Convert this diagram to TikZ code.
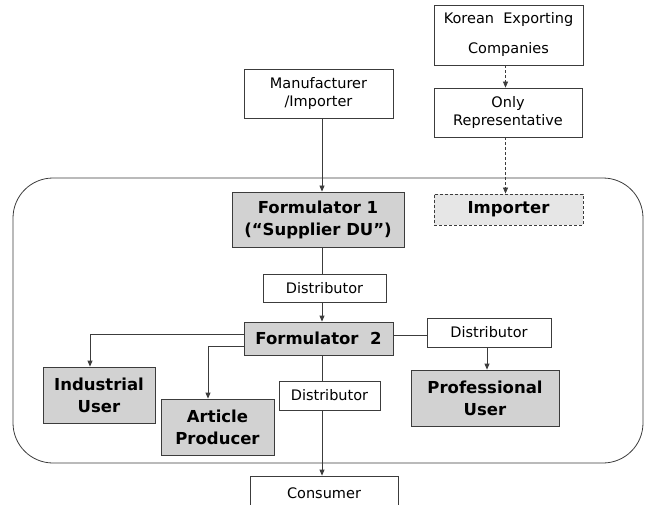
\documentclass[tikz,border=0pt]{standalone}
\usepackage{fontspec}
\setmainfont{DejaVu Sans}
\usetikzlibrary{arrows.meta}
\definecolor{linec}{RGB}{60,60,60}
\definecolor{boxgray}{RGB}{210,210,210}
\definecolor{lightgray}{RGB}{230,230,230}
\begin{document}
\begin{tikzpicture}[x=1pt,y=-1pt,
  box/.style={draw=linec, line width=0.8pt, fill=white, inner sep=0pt, align=center,
              font=\fontsize{14.5}{18}\selectfont},
  actor/.style={box, fill=boxgray, font=\bfseries\fontsize{16.5}{22}\selectfont},
  link/.style={draw=linec, line width=0.8pt},
  arr/.style={link, -{Triangle[length=6pt,width=5pt]}},
  dasharr/.style={arr, dashed, dash pattern=on 3pt off 2pt},
]
\useasboundingbox (0,0) rectangle (650,505);
\begin{scope}
\clip (0,0) rectangle (650,505);

% domestic supply chain frame
\draw[link, rounded corners=40pt] (13,178) rectangle (643,463);

% outside parties
\node[box, minimum width=149pt, minimum height=60pt, font=\fontsize{14.5}{30}\selectfont]
  (korean) at (508.5,35) {Korean\ \ Exporting\\Companies};
\node[box, minimum width=148pt, minimum height=49pt] (onlyrep) at (508,112.5) {Only\\Representative};
\node[box, minimum width=149pt, minimum height=49pt] (manuf) at (318.5,93.5) {Manufacturer\\/Importer};

% importer via only representative
\node[actor, fill=lightgray, dashed, dash pattern=on 3pt off 2pt, minimum width=149pt, minimum height=31pt]
  (importer) at (508.5,209.5) {Importer};

% formulators and distributors
\node[actor, minimum width=172pt, minimum height=55pt] (form1) at (318,219.5) {Formulator 1\\(“Supplier DU”)};
\node[box, minimum width=123pt, minimum height=28pt] (dist1) at (324.5,288) {Distributor};
\node[actor, minimum width=149pt, minimum height=33pt] (form2) at (318.5,338.5) {Formulator\ \ 2};
\node[box, minimum width=124pt, minimum height=29pt] (distr) at (489,332.5) {Distributor};
\node[box, minimum width=101pt, minimum height=29pt] (dist3) at (329.5,395.5) {Distributor};

% end users
\node[actor, minimum width=112pt, minimum height=56pt] (indus) at (99,395) {Industrial\\User};
\node[actor, minimum width=113pt, minimum height=56pt] (article) at (217.5,427) {Article\\Producer};
\node[actor, minimum width=148pt, minimum height=56pt] (prof) at (485,398) {Professional\\User};
\node[box, minimum width=148pt, minimum height=34pt] (consumer) at (324,493) {Consumer};

% guide coordinates for the vertical runs
\coordinate (spine) at (322,0);
\coordinate (orx) at (505.5,0);
\coordinate (profx) at (487,0);
\coordinate (f2r) at ([yshift=3.5pt]form2.east);
\coordinate (f2a) at ([yshift=4.5pt]form2.west);
\coordinate (f2b) at ([yshift=-7.5pt]form2.west);

% connectors
\draw[dasharr] (korean.south -| orx) -- (onlyrep.north -| orx);
\draw[dasharr] (onlyrep.south -| orx) -- (importer.north -| orx);
\draw[arr] (manuf.south -| spine) -- (form1.north -| spine);
\draw[link] (form1.south -| spine) -- (dist1.north -| spine);
\draw[arr] (dist1.south -| spine) -- (form2.north -| spine);
\draw[link] (form2.south -| spine) -- (dist3.north -| spine);
\draw[arr] (dist3.south -| spine) -- (consumer.north -| spine);
\draw[link] (f2r) -- (f2r -| distr.west);
\draw[arr] (distr.south -| profx) -- (prof.north -| profx);
\draw[arr] (f2a) -| ([xshift=-9pt]indus.north);
\draw[arr] (f2b) -| ([xshift=-9.5pt]article.north);
\end{scope}
\end{tikzpicture}
\end{document}
